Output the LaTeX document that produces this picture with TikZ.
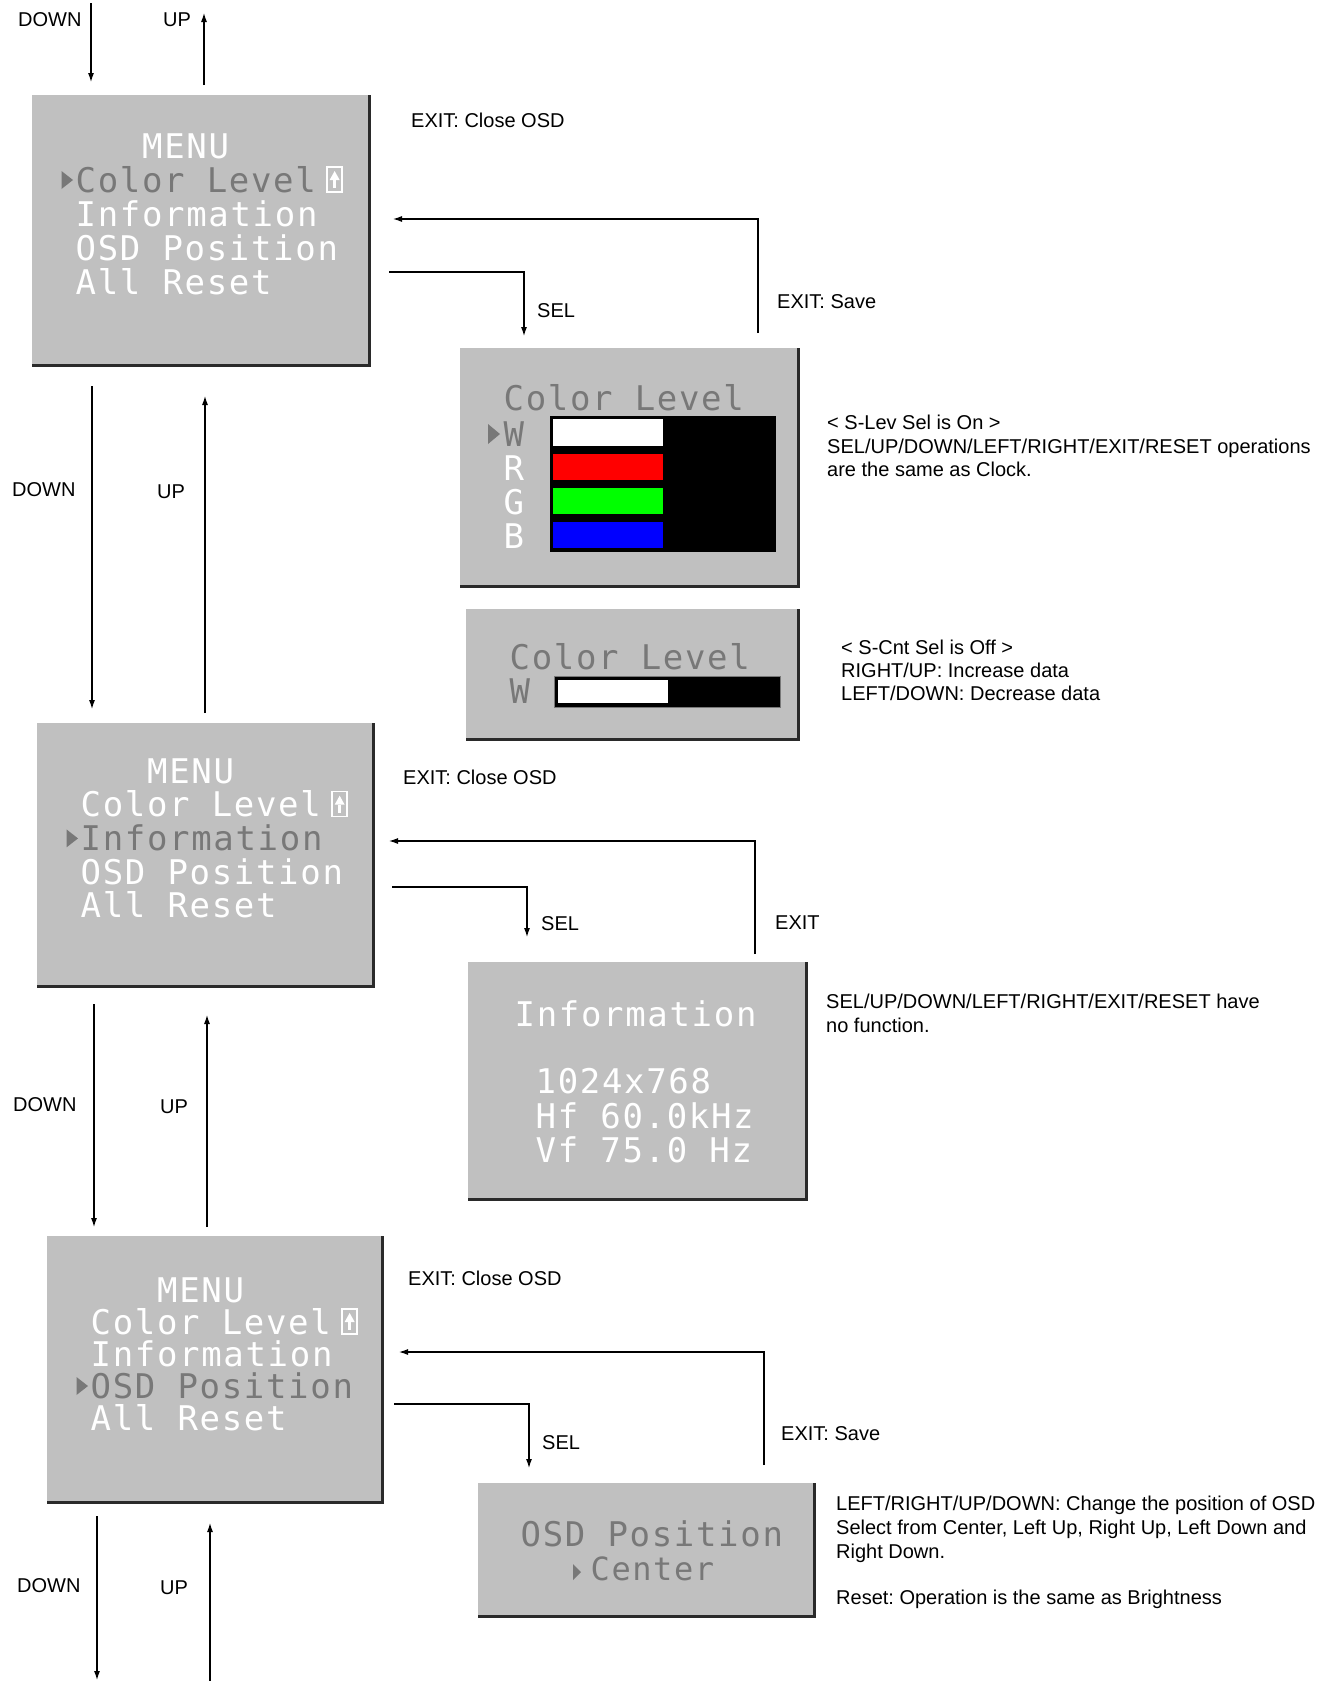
\documentclass[tikz,border=0pt]{standalone}
\usepackage{fontspec}
\setmainfont{Liberation Sans}
\newfontfamily\osdfont[LetterSpace=4.9]{DejaVu Sans Mono}
\usetikzlibrary{arrows.meta}
\definecolor{osdbg}{HTML}{C0C0C0}
\definecolor{osdsel}{HTML}{787878}
\definecolor{osdedge}{HTML}{2A2A2A}
\tikzset{
  lbl/.style={anchor=base west, inner sep=0pt, font=\fontsize{20}{24}\selectfont\frenchspacing},
  osdtxt/.style={anchor=base west, inner sep=0pt, text height=25pt, text depth=0pt, font=\osdfont\fontsize{34}{34}\selectfont, text=white},
  osdgray/.style={osdtxt, text=osdsel},
  conn/.style={line width=1.1pt, draw=black},
  arr/.style={conn, -{Latex[length=9pt,width=6pt]}},
  screen/.style={anchor=north west, fill=osdbg, draw=none, inner sep=0pt, outer sep=0pt},
  rim/.style={draw=osdedge, line width=3pt},
}
% menu screen text: #1 name, #2 column x, #3 MENU baseline, #4 line step, #5 selected item
\newcommand{\osdmenu}[5]{%
  \node[osdtxt] (#1t0) at ({#2+3*22.15},#3) {MENU};
  \foreach \k/\txt in {1/Color Level,2/Information,3/OSD Position,4/All Reset}{
    \ifnum\k=#5\relax
      \node[osdgray] (#1t\k) at (#2,{#3+\k*#4}) {\txt};
    \else
      \node[osdtxt] (#1t\k) at (#2,{#3+\k*#4}) {\txt};
    \fi
  }
  \fill[osdsel] ({#2-2.5},{#3+#5*#4-12}) -- ({#2-14},{#3+#5*#4-21}) -- ({#2-14},{#3+#5*#4-3}) -- cycle;
  \draw[white, line width=1.5pt] ({#2+11*22.15+8},{#3+#4-25}) rectangle ({#2+11*22.15+23},{#3+#4});
  \fill[white] ({#2+11*22.15+10.5},{#3+#4-12}) -- ({#2+11*22.15+15.5},{#3+#4-21}) -- ({#2+11*22.15+20.5},{#3+#4-12}) -- cycle;
  \fill[white] ({#2+11*22.15+14},{#3+#4-12}) rectangle ({#2+11*22.15+17},{#3+#4-4});
}
\begin{document}
\begin{tikzpicture}[x=1pt,y=-1pt]
\useasboundingbox (0,0) rectangle (1337,1681);

% ---------- screens ----------
\node[screen, minimum width=337pt, minimum height=270pt] (m1) at (32,95) {};
\node[screen, minimum width=336pt, minimum height=263pt] (m2) at (37,723) {};
\node[screen, minimum width=335pt, minimum height=266pt] (m3) at (47,1236) {};
\node[screen, minimum width=338pt, minimum height=238pt] (cl1) at (460,348) {};
\node[screen, minimum width=332pt, minimum height=130pt] (cl2) at (466,609) {};
\node[screen, minimum width=338pt, minimum height=237pt] (info) at (468,962) {};
\node[screen, minimum width=336pt, minimum height=133pt] (pos) at (478,1483) {};
\foreach \s in {m1,m2,m3,cl1,cl2,info,pos}{
  \draw[rim] (\s.north east) -- (\s.south east) -- (\s.south west);
}

% ---------- menu texts ----------
\osdmenu{a}{75.5}{158}{34}{1}
\osdmenu{b}{80.5}{783}{33.7}{2}
\osdmenu{c}{90.5}{1302}{32}{3}

% ---------- colour level (large) ----------
\node[osdgray] (clt) at (503.5,410) {Color Level};
\fill[osdsel] (500,434) -- (488,424) -- (488,444) -- cycle;
\node[osdgray] (clw) at (503.5,446) {W};
\node[osdtxt] (clr) at (503.5,480) {R};
\node[osdtxt] (clg) at (503.5,514) {G};
\node[osdtxt] (clb) at (503.5,548) {B};
\fill[black] (550,416) rectangle (776,552);
\fill[white] (553,419) rectangle (663,446);
\fill[red] (553,454) rectangle (663,480);
\fill[green] (553,488) rectangle (663,514);
\fill[blue] (553,522) rectangle (663,548);

% ---------- colour level (small) ----------
\node[osdgray] (cl2t) at (509.5,669) {Color Level};
\node[osdgray] (cl2w) at (509.5,703) {W};
\fill[black, draw=osdsel, line width=1pt] (554,676) rectangle (780,707);
\fill[white] (558,680) rectangle (668,703);

% ---------- information ----------
\node[osdtxt] (inf0) at (514.5,1026) {Information};
\node[osdtxt] (inf1) at (535.5,1093) {1024x768};
\node[osdtxt] (inf2) at (535.5,1128) {Hf 60.0kHz};
\node[osdtxt] (inf3) at (535.5,1162) {Vf 75.0 Hz};

% ---------- osd position ----------
\node[osdgray] (pos0) at (520.5,1546) {OSD Position};
\node[osdgray, text height=23pt, font=\osdfont\fontsize{32}{32}\selectfont] (pos1) at (590.5,1580) {Center};
\fill[osdsel] (581,1572) -- (573,1564) -- (573,1580) -- cycle;

% ---------- connector end points ----------
\coordinate (d0a) at (91,3);    \coordinate (d0b) at (91,82);
\coordinate (u0a) at (204,85);  \coordinate (u0b) at (204,13);
\coordinate (d1a) at (92,386);  \coordinate (d1b) at (92,709);
\coordinate (u1a) at (205,713); \coordinate (u1b) at (205,396);
\coordinate (d2a) at (94,1004); \coordinate (d2b) at (94,1227);
\coordinate (u2a) at (207,1227);\coordinate (u2b) at (207,1015);
\coordinate (d3a) at (97,1516); \coordinate (d3b) at (97,1680);
\coordinate (u3a) at (210,1681);\coordinate (u3b) at (210,1523);

\coordinate (e1a) at (758,333); \coordinate (e1b) at (758,219); \coordinate (e1c) at (393,219);
\coordinate (s1a) at (389,272); \coordinate (s1b) at (524,272); \coordinate (s1c) at (524,336);
\coordinate (e2a) at (755,954); \coordinate (e2b) at (755,841); \coordinate (e2c) at (389,841);
\coordinate (s2a) at (392,887); \coordinate (s2b) at (527,887); \coordinate (s2c) at (527,937);
\coordinate (e3a) at (764,1465);\coordinate (e3b) at (764,1352);\coordinate (e3c) at (399,1352);
\coordinate (s3a) at (394,1404);\coordinate (s3b) at (529,1404);\coordinate (s3c) at (529,1468);

\foreach \p in {d0,u0,d1,u1,d2,u2,d3,u3}{ \draw[arr] (\p a) -- (\p b); }
\foreach \p in {e1,s1,e2,s2,e3,s3}{ \draw[arr] (\p a) -- (\p b) -- (\p c); }

% ---------- labels ----------
\node[lbl] (l01) at (18,27) {DOWN};
\node[lbl] (l02) at (163,27) {UP};
\node[lbl] (l03) at (411,127) {EXIT: Close OSD};
\node[lbl] (l04) at (537,317) {SEL};
\node[lbl] (l05) at (777,308) {EXIT: Save};
\node[lbl] (l06) at (827,429) {< S-Lev Sel is On >};
\node[lbl] (l07) at (827,453) {SEL/UP/DOWN/LEFT/RIGHT/EXIT/RESET operations};
\node[lbl] (l08) at (827,476) {are the same as Clock.};
\node[lbl] (l09) at (841,654) {< S-Cnt Sel is Off >};
\node[lbl] (l10) at (841,677) {RIGHT/UP: Increase data};
\node[lbl] (l11) at (841,700) {LEFT/DOWN: Decrease data};
\node[lbl] (l12) at (12,496) {DOWN};
\node[lbl] (l13) at (157,498) {UP};
\node[lbl] (l14) at (403,784) {EXIT: Close OSD};
\node[lbl] (l15) at (541,930) {SEL};
\node[lbl] (l16) at (775,929) {EXIT};
\node[lbl] (l17) at (826,1008) {SEL/UP/DOWN/LEFT/RIGHT/EXIT/RESET have};
\node[lbl] (l18) at (826,1032) {no function.};
\node[lbl] (l19) at (13,1111) {DOWN};
\node[lbl] (l20) at (160,1113) {UP};
\node[lbl] (l21) at (408,1285) {EXIT: Close OSD};
\node[lbl] (l22) at (542,1449) {SEL};
\node[lbl] (l23) at (781,1440) {EXIT: Save};
\node[lbl] (l24) at (836,1510) {LEFT/RIGHT/UP/DOWN: Change the position of OSD};
\node[lbl] (l25) at (836,1534) {Select from Center, Left Up, Right Up, Left Down and};
\node[lbl] (l26) at (836,1558) {Right Down.};
\node[lbl] (l27) at (836,1604) {Reset: Operation is the same as Brightness};
\node[lbl] (l28) at (17,1592) {DOWN};
\node[lbl] (l29) at (160,1594) {UP};
\end{tikzpicture}
\end{document}
